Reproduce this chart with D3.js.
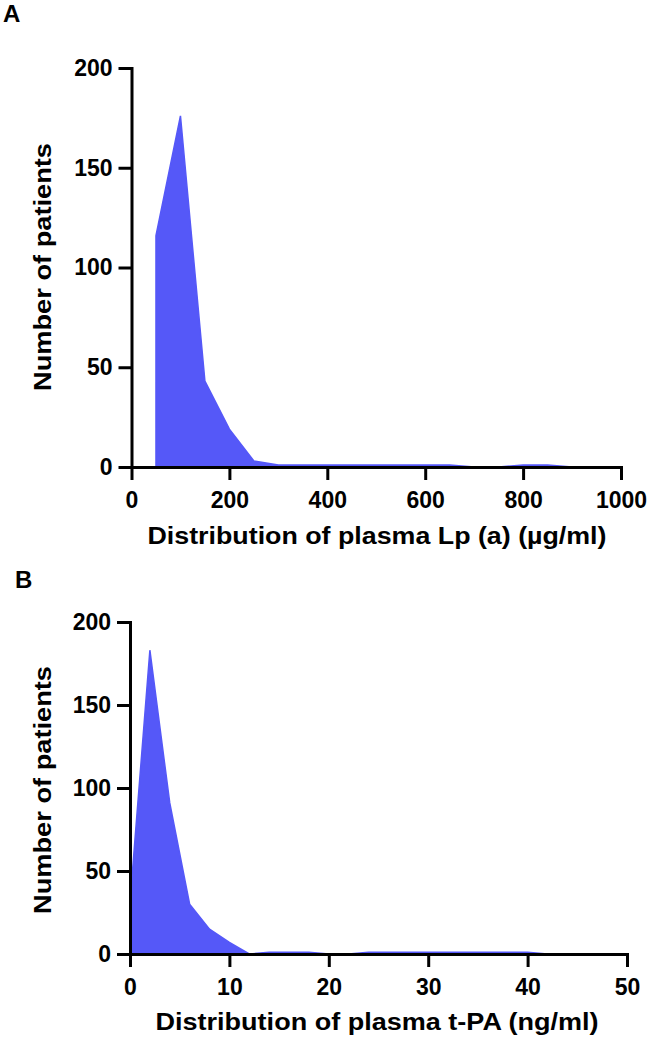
<!DOCTYPE html>
<html>
<head>
<meta charset="utf-8">
<script src="https://cdn.jsdelivr.net/npm/d3@7"></script>
<style>
  body { margin: 0; background: #fff; }
  text { font-family: "Liberation Sans", Arial, sans-serif; font-weight: bold; fill: #000; }
</style>
</head>
<body>
<div id="chart"></div>
<script>
// panel A: Lp(a) bins (ug/ml) and patient counts
var lpaBins = [50, 100, 150, 200, 250, 300, 350, 400, 450, 500, 550, 600, 650, 700, 750, 800, 850, 900];
var lpaCounts = [116, 176, 43, 19, 3, 1, 1, 1, 1, 1, 1, 1, 1, 0, 0, 1, 1, 0];
var lpaTicks = [0, 200, 400, 600, 800, 1000];

// panel B: t-PA bins (ng/ml) and patient counts
var tpaBins = [0, 2, 4, 6, 8, 10, 12, 14, 16, 18, 20, 22, 24, 26, 28, 30, 32, 34, 36, 38, 40, 42];
var tpaCounts = [31, 183, 91, 30, 15, 7, 0, 1, 1, 1, 0, 0, 1, 1, 1, 1, 1, 1, 1, 1, 1, 0];
var tpaTicks = [0, 10, 20, 30, 40, 50];

var countTicks = [0, 50, 100, 150, 200];

var width = 650, height = 1044;

var svg = d3.select("#chart").append("svg")
    .attr("width", width)
    .attr("height", height);

function panel(opts) {
    var x = d3.scaleLinear().domain([0, opts.xMax]).range([opts.left, opts.right]);
    var y = d3.scaleLinear().domain([0, 200]).range([opts.bottom, opts.top]);

    var data = opts.bins.map(function (b, i) { return { x: b, y: opts.counts[i] }; });

    var area = d3.area()
        .x(function (d) { return x(d.x); })
        .y0(y(0))
        .y1(function (d) { return y(d.y); });

    svg.append("path")
        .datum(data)
        .attr("d", area)
        .attr("fill", "#5558f8")
        .attr("stroke", "#5558f8")
        .attr("stroke-width", 1.5);

    var xAxis = svg.append("g")
        .attr("transform", "translate(0," + opts.bottom + ")")
        .call(d3.axisBottom(x).tickValues(opts.xTicks).tickFormat(d3.format("d"))
            .tickSize(13).tickSizeOuter(0).tickPadding(12));

    var yAxis = svg.append("g")
        .attr("transform", "translate(" + opts.left + ",0)")
        .call(d3.axisLeft(y).tickValues(countTicks).tickSize(13).tickSizeOuter(0).tickPadding(6));

    [xAxis, yAxis].forEach(function (g) {
        g.selectAll("path, line").attr("stroke", "#000").attr("stroke-width", 3);
        g.selectAll("text").style("font-size", "23px").attr("fill", "#000");
        g.select(".domain").attr("stroke-linecap", "square");
    });

    svg.append("text")
        .attr("x", opts.xTitleX)
        .attr("y", opts.xTitleY)
        .attr("text-anchor", "middle")
        .attr("textLength", opts.xTitleLen)
        .attr("lengthAdjust", "spacingAndGlyphs")
        .style("font-size", "23px")
        .text(opts.xTitle);

    svg.append("text")
        .attr("transform", "translate(" + opts.yTitleX + "," + opts.yTitleY + ") rotate(-90)")
        .attr("text-anchor", "middle")
        .attr("textLength", 248)
        .attr("lengthAdjust", "spacingAndGlyphs")
        .style("font-size", "23px")
        .text("Number of patients");

    svg.append("text")
        .attr("x", opts.letterX)
        .attr("y", opts.letterY)
        .style("font-size", "24px")
        .text(opts.letter);
}

panel({
    bins: lpaBins, counts: lpaCounts, xTicks: lpaTicks, xMax: 1000,
    left: 131.5, right: 621, top: 68, bottom: 467,
    xTitle: "Distribution of plasma Lp (a) (\u00b5g/ml)", xTitleX: 377, xTitleY: 544, xTitleLen: 459,
    yTitleX: 51, yTitleY: 267,
    letter: "A", letterX: 3, letterY: 22
});

panel({
    bins: tpaBins, counts: tpaCounts, xTicks: tpaTicks, xMax: 50,
    left: 130, right: 627, top: 622, bottom: 954,
    xTitle: "Distribution of plasma t-PA (ng/ml)", xTitleX: 377, xTitleY: 1030, xTitleLen: 443,
    yTitleX: 51, yTitleY: 790,
    letter: "B", letterX: 15, letterY: 588
});
</script>
</body>
</html>
